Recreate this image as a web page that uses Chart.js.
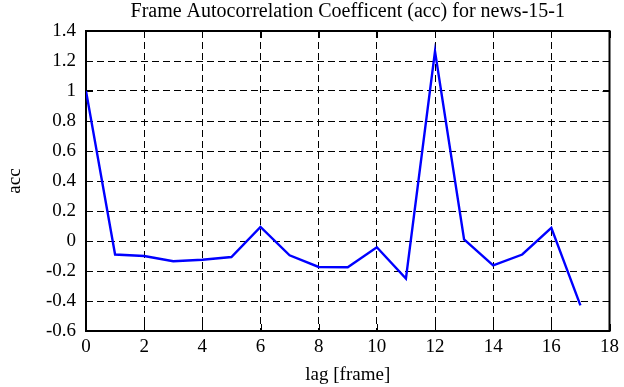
<!DOCTYPE html>
<html>
<head>
<meta charset="utf-8">
<script src="https://cdn.jsdelivr.net/npm/chart.js@4/dist/chart.umd.min.js"></script>
<style>
html,body{margin:0;padding:0;background:#fff;}
#wrap{width:624px;height:387px;}
</style>
</head>
<body>
<div id="wrap"><canvas id="c" width="624" height="387"></canvas></div>
<script>
const lags = [0,1,2,3,4,5,6,7,8,9,10,11,12,13,14,15,16,17];
const acc = [1.0,-0.09,-0.10,-0.135,-0.125,-0.107,0.094,-0.095,-0.173,-0.175,-0.042,-0.251,1.265,0.011,-0.162,-0.09,0.087,-0.429];
const xTicks = [0,2,4,6,8,10,12,14,16,18];
const yTicks = [-0.6,-0.4,-0.2,0,0.2,0.4,0.6,0.8,1,1.2,1.4];
const titleText = 'Frame Autocorrelation Coefficent (acc) for news-15-1';
const xTitle = 'lag [frame]';
const yTitle = 'acc';

const FONT = "'Liberation Serif','DejaVu Serif',serif";

const boxPlugin = {
  id: 'box',
  beforeDatasetsDraw(chart) {
    const {ctx, chartArea: a, scales} = chart;
    ctx.save();
    ctx.strokeStyle = '#000';
    ctx.lineWidth = 1;
    const L = 7;
    ctx.beginPath();
    scales.x.ticks.forEach(t => {
      const px = Math.round(scales.x.getPixelForValue(t.value)) + 0.5;
      ctx.moveTo(px, a.bottom); ctx.lineTo(px, a.bottom - L);
      ctx.moveTo(px, a.top); ctx.lineTo(px, a.top + L);
    });
    scales.y.ticks.forEach(t => {
      const py = Math.round(scales.y.getPixelForValue(t.value)) + 0.5;
      ctx.moveTo(a.left, py); ctx.lineTo(a.left + L, py);
      ctx.moveTo(a.right, py); ctx.lineTo(a.right - L, py);
    });
    ctx.stroke();
    ctx.lineWidth = 2;
    ctx.strokeRect(a.left, a.top, a.right - a.left, a.bottom - a.top);
    ctx.restore();
  }
};

new Chart(document.getElementById('c'), {
  type: 'line',
  data: {
    datasets: [{
      data: lags.map((x, i) => ({x: x, y: acc[i]})),
      borderColor: '#0000ff',
      borderWidth: 2.4,
      pointRadius: 0,
      tension: 0,
      fill: false
    }]
  },
  options: {
    responsive: false,
    animation: false,
    events: [],
    layout: {padding: {left: 0, right: 11, top: 0, bottom: 0}},
    plugins: {
      legend: {display: false},
      tooltip: {enabled: false},
      title: {
        display: true,
        fullSize: false,
        text: titleText,
        color: '#000',
        font: {family: FONT, size: 20, weight: 'normal', lineHeight: 1.2},
        padding: {top: 0, bottom: 7}
      }
    },
    scales: {
      x: {
        type: 'linear',
        min: 0, max: 18,
        afterBuildTicks(s) { s.ticks = xTicks.map(v => ({value: v})); },
        afterFit(s) { s.height = 56; },
        ticks: {color: '#000', font: {family: FONT, size: 19}, padding: 5, maxRotation: 0, autoSkip: false},
        grid: {color: '#000', lineWidth: 1, drawTicks: false},
        border: {display: false, dash: [7, 4]},
        title: {display: true, text: xTitle, color: '#000', font: {family: FONT, size: 19}, padding: {top: 0, bottom: 1}}
      },
      y: {
        type: 'linear',
        min: -0.6, max: 1.4,
        afterBuildTicks(s) { s.ticks = yTicks.map(v => ({value: v})); },
        afterFit(s) { s.width = 86; },
        ticks: {color: '#000', font: {family: FONT, size: 19}, padding: 10, autoSkip: false,
          callback: v => String(Math.round(v * 10) / 10)},
        grid: {color: '#000', lineWidth: 1, drawTicks: false},
        border: {display: false, dash: [7, 4]},
        title: {display: true, text: yTitle, color: '#000', font: {family: FONT, size: 19}, padding: {top: 4, bottom: 0}}
      }
    }
  },
  plugins: [boxPlugin]
});
</script>
</body>
</html>
